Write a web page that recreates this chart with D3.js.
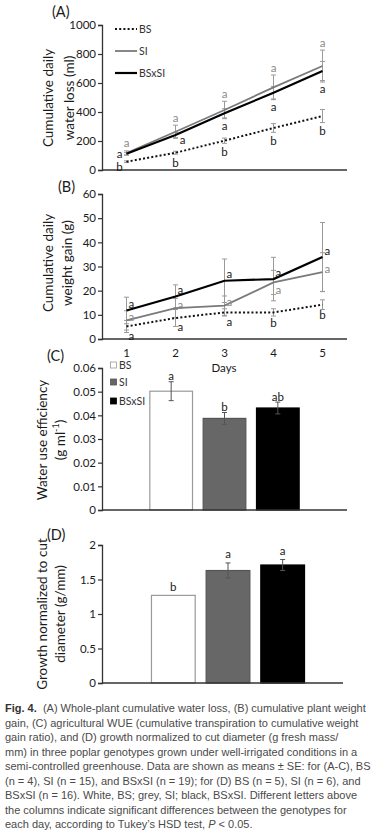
<!DOCTYPE html>
<html><head><meta charset="utf-8">
<script src="https://cdn.jsdelivr.net/npm/d3@7"></script>
<style>body{margin:0;background:#fff}svg{display:block}</style>
</head><body>
<script>
// ---------- data ----------
const days = [1, 2, 3, 4, 5];
const genotypes = ["BS", "SI", "BSxSI"];
// (A) cumulative water loss (ml)
const waterBS = [57, 119, 202, 290, 372];
const waterBSerr = [6, 10, 18, 30, 45];
const waterSI = [117, 264, 414, 570, 717];
const waterSIerr = [15, 45, 60, 85, 110];
const waterBSxSI = [112, 241, 391, 533, 683];
const waterBSxSIerr = [8, 18, 32, 43, 66];
const lettersA_BS = ["b", "b", "b", "b", "b"];
const lettersA_SI = ["a", "a", "a", "a", "a"];
const lettersA_BSxSI = ["a", "a", "a", "a", "a"];
// (B) cumulative weight gain (g)
const gainBS = [5.2, 8.7, 11.0, 11.0, 14.2];
const gainBSerr = [2.5, 3.5, 1.5, 1.5, 2];
const gainSI = [7.7, 12.8, 13.8, 23.4, 27.7];
const gainSIerr = [4, 4, 4, 5, 8];
const gainBSxSI = [11.8, 17.6, 24.1, 24.8, 33.9];
const gainBSxSIerr = [5.5, 4.8, 9, 9, 14.3];
const lettersB_BS = ["a", "a", "a", "b", "b"];
const lettersB_SI = ["a", "a", "a", "a", "a"];
const lettersB_BSxSI = ["a", "a", "a", "a", "a"];
// (C) water use efficiency
const wue = [0.0502, 0.0387, 0.0431];
const wueErr = [0.004, 0.0025, 0.0025];
const lettersC = ["a", "b", "ab"];
// (D) growth normalized to cut diameter
const growth = [1.27, 1.63, 1.71];
const growthErr = [0, 0.11, 0.08];
const lettersD = ["b", "a", "a"];
const ticksA = [0, 200, 400, 600, 800, 1000];
const ticksB = [0, 10, 20, 30, 40, 50, 60];
const ticksC = [0, 0.01, 0.02, 0.03, 0.04, 0.05, 0.06];
const ticksD = [0, 0.5, 1, 1.5, 2];
const captionLines = [
  "(A) Whole-plant cumulative water loss, (B) cumulative plant weight",
  "gain, (C) agricultural WUE (cumulative transpiration to cumulative weight",
  "gain ratio), and (D) growth normalized to cut diameter (g fresh mass/",
  "mm) in three poplar genotypes grown under well-irrigated conditions in a",
  "semi-controlled greenhouse. Data are shown as means \u00b1 SE: for (A-C), BS",
  "(n = 4), SI (n = 15), and BSxSI (n = 19); for (D) BS (n = 5), SI (n = 6), and",
  "BSxSI (n = 16). White, BS; grey, SI; black, BSxSI. Different letters above",
  "the columns indicate significant differences between the genotypes for",
  "each day, according to Tukey\u2019s HSD test, "
];

// ---------- setup ----------
const W = 386, H = 836;
const FONT = "Lato, 'Open Sans', sans-serif";
const svg = d3.select("body").append("svg").attr("width", W).attr("height", H)
  .style("font-family", FONT);
const axisCol = "#333", txtCol = "#1a1a1a", greyLine = "#7a7a7a", errCol = "#9a9a9a", greyTxt = "#8a8a8a";

function yAxis(y, ticks, fmt) {
  const g = svg.append("g").attr("transform", "translate(102,0)")
    .call(d3.axisLeft(y).tickValues(ticks).tickSize(4).tickFormat(fmt));
  g.select(".domain").attr("stroke", axisCol).attr("stroke-width", 1.3);
  g.selectAll(".tick line").attr("stroke", axisCol).attr("stroke-width", 1.2);
  g.selectAll(".tick text").attr("fill", txtCol).style("font-size", "11.5px").style("font-family", FONT).attr("x", -6);
  return g;
}
function xLine(y0, x1) {
  svg.append("line").attr("x1", 102).attr("x2", x1).attr("y1", y0).attr("y2", y0)
    .attr("stroke", axisCol).attr("stroke-width", 1.3);
}
function yTitle(lines, xs, cy, size) {
  lines.forEach((t, i) => {
    const tx = svg.append("text").attr("transform", `translate(${xs[i]},${cy}) rotate(-90)`)
      .attr("text-anchor", "middle").attr("dominant-baseline", "central")
      .attr("fill", txtCol).style("font-size", size + "px");
    if (typeof t === "string") tx.text(t); else t(tx);
  });
}
function panelLabel(t, x, y) {
  svg.append("text").attr("x", x).attr("y", y).attr("fill", txtCol).style("font-size", "14.5px").text(t);
}
function errBar(x, y, v, e, col, cap) {
  if (e <= 0) return;
  const g = svg.append("g").attr("stroke", col).attr("stroke-width", 1);
  g.append("line").attr("x1", x).attr("x2", x).attr("y1", y(v - e)).attr("y2", y(v + e));
  g.append("line").attr("x1", x - cap).attr("x2", x + cap).attr("y1", y(v - e)).attr("y2", y(v - e));
  g.append("line").attr("x1", x - cap).attr("x2", x + cap).attr("y1", y(v + e)).attr("y2", y(v + e));
}
function letter(t, x, y, col, anchor) {
  svg.append("text").attr("x", x).attr("y", y).attr("text-anchor", anchor || "middle")
    .attr("dominant-baseline", "central").attr("fill", col).style("font-size", "11.5px").text(t);
}

const x = d3.scalePoint().domain(days).range([102, 347]).padding(0.5);

// ---------- (A) ----------
const yA = d3.scaleLinear().domain([0, 1000]).range([170, 25]);
yAxis(yA, ticksA, d3.format("d"));
xLine(170, 347);
panelLabel("(A)", 52, 17);
yTitle(["Cumulative daily", "water loss (ml)"], [48, 69], 98, 13.5);
const line = y => d3.line().x((d, i) => x(days[i])).y(d => y(d));
const seriesA = [
  {v: waterBS, e: waterBSerr, col: "#111", w: 2, dash: "2,2.2"},
  {v: waterSI, e: waterSIerr, col: greyLine, w: 1.8, dash: null},
  {v: waterBSxSI, e: waterBSxSIerr, col: "#000", w: 2.2, dash: null}
];
seriesA.forEach(s => s.v.forEach((v, i) => errBar(x(days[i]), yA, v, s.e[i], errCol, 2.5)));
seriesA.forEach(s => {
  svg.append("path").datum(s.v).attr("d", line(yA)).attr("fill", "none")
    .attr("stroke", s.col).attr("stroke-width", s.w).attr("stroke-dasharray", s.dash);
});
days.forEach((d, i) => {
  letter(lettersA_SI[i], x(d), yA(waterSI[i] + waterSIerr[i]) - 8, greyTxt);
  if (i === 0) {
    letter(lettersA_BSxSI[i], x(d) - 7, yA(waterBSxSI[i]), txtCol);
    letter(lettersA_BS[i], x(d) - 7, yA(waterBS[i]) + 5, txtCol);
  } else {
    if (i === 1) letter(lettersA_BSxSI[i], x(d) + 7, yA(waterBSxSI[i]) + 4, txtCol);
    else letter(lettersA_BSxSI[i], x(d), yA(waterBSxSI[i] - waterBSxSIerr[i]) + 8, txtCol);
    letter(lettersA_BS[i], x(d), yA(waterBS[i] - waterBSerr[i]) + 8, txtCol);
  }
});
// legend A
const legA = [
  {t: "BS", col: "#111", w: 2, dash: "2,2.2", y: 29},
  {t: "SI", col: greyLine, w: 1.8, dash: null, y: 51},
  {t: "BSxSI", col: "#000", w: 2.2, dash: null, y: 73}
];
legA.forEach(l => {
  svg.append("line").attr("x1", 115).attr("x2", 137).attr("y1", l.y).attr("y2", l.y)
    .attr("stroke", l.col).attr("stroke-width", l.w).attr("stroke-dasharray", l.dash);
  svg.append("text").attr("x", 139).attr("y", l.y).attr("dominant-baseline", "central")
    .attr("fill", "#333").style("font-size", "10.5px").text(l.t);
});

// ---------- (B) ----------
const yB = d3.scaleLinear().domain([0, 60]).range([339, 194]);
yAxis(yB, ticksB, d3.format("d"));
xLine(339, 347);
panelLabel("(B)", 58, 192);
yTitle(["Cumulative daily", "weight gain (g)"], [48, 67], 263, 13.5);
svg.selectAll(".xlab").data(days).enter().append("text")
  .attr("x", d => x(d)).attr("y", 352.5).attr("text-anchor", "middle").attr("dominant-baseline", "central")
  .attr("fill", txtCol).style("font-size", "11.5px").text(d => d);
svg.append("text").attr("x", 224).attr("y", 367).attr("text-anchor", "middle").attr("dominant-baseline", "central")
  .attr("fill", txtCol).style("font-size", "11.5px").text("Days");
const seriesB = [
  {v: gainBS, e: gainBSerr, col: "#111", w: 2, dash: "2,2.2"},
  {v: gainSI, e: gainSIerr, col: greyLine, w: 1.8, dash: null},
  {v: gainBSxSI, e: gainBSxSIerr, col: "#000", w: 2.2, dash: null}
];
seriesB.forEach(s => s.v.forEach((v, i) => errBar(x(days[i]), yB, v, s.e[i], errCol, 2.5)));
seriesB.forEach(s => {
  svg.append("path").datum(s.v).attr("d", line(yB)).attr("fill", "none")
    .attr("stroke", s.col).attr("stroke-width", s.w).attr("stroke-dasharray", s.dash);
});
days.forEach((d, i) => {
  letter(lettersB_BSxSI[i], x(d) + 2, yB(gainBSxSI[i]) - 7, txtCol, "start");
  if (i === 3) letter(lettersB_SI[i], x(d) + 2, yB(gainSI[i]) + 7, greyTxt, "start");
  else letter(lettersB_SI[i], x(d) + 2, yB(gainSI[i]) - 4, greyTxt, "start");
  if (i < 3) letter(lettersB_BS[i], x(d) + 2, yB(gainBS[i]) + 9, txtCol, "start");
  else letter(lettersB_BS[i], x(d), yB(gainBS[i]) + 10, txtCol);
});

// ---------- (C) ----------
const xC = d3.scaleBand().domain(genotypes).range([144.5, 304.5]).paddingInner(0.2).paddingOuter(0.1);
const fills = {BS: "#fff", SI: "#676767", BSxSI: "#000"};
const strokes = {BS: "#9a9a9a", SI: "#555", BSxSI: "#000"};
const yC = d3.scaleLinear().domain([0, 0.06]).range([510, 368]);
yAxis(yC, ticksC, d => d === 0 ? "0" : d3.format(".2f")(d));
panelLabel("(C)", 47, 361);
yTitle(["Water use efficiency", t => { t.text("(g ml"); t.append("tspan").attr("dy", -5).style("font-size", "9px").text("-1"); t.append("tspan").attr("dy", 5).text(")"); }], [42, 60], 440, 13.5);
genotypes.forEach((g, i) => {
  svg.append("rect").attr("x", xC(g)).attr("y", yC(wue[i])).attr("width", xC.bandwidth())
    .attr("height", yC(0) - yC(wue[i])).attr("fill", fills[g]).attr("stroke", strokes[g]).attr("stroke-width", 1.2);
  errBar(xC(g) + xC.bandwidth() / 2, yC, wue[i], wueErr[i], "#555", 2.5);
  letter(lettersC[i], xC(g) + xC.bandwidth() / 2, yC(wue[i] + wueErr[i]) - 6, txtCol);
});
xLine(510, 347);
const legC = [{g: "BS", y: 365}, {g: "SI", y: 382}, {g: "BSxSI", y: 401}];
legC.forEach(l => {
  svg.append("rect").attr("x", 110.5).attr("y", l.y - 3).attr("width", 6).attr("height", 6)
    .attr("fill", fills[l.g]).attr("stroke", strokes[l.g]).attr("stroke-width", 0.8);
  svg.append("text").attr("x", 119).attr("y", l.y).attr("dominant-baseline", "central")
    .attr("fill", "#333").style("font-size", "10.5px").text(l.g);
});

// ---------- (D) ----------
const xD = d3.scaleBand().domain(genotypes).range([146, 310]).paddingInner(0.2).paddingOuter(0.1);
const yD = d3.scaleLinear().domain([0, 2]).range([683, 545]);
yAxis(yD, ticksD, d3.format(""));
panelLabel("(D)", 47, 540);
yTitle(["Growth normalized to cut", "diameter  (g/mm)"], [42, 60], 614, 13.5);
genotypes.forEach((g, i) => {
  svg.append("rect").attr("x", xD(g)).attr("y", yD(growth[i])).attr("width", xD.bandwidth())
    .attr("height", yD(0) - yD(growth[i])).attr("fill", fills[g]).attr("stroke", strokes[g]).attr("stroke-width", 1.2);
  errBar(xD(g) + xD.bandwidth() / 2, yD, growth[i], growthErr[i], "#555", 2.5);
  letter(lettersD[i], xD(g) + xD.bandwidth() / 2, yD(growth[i] + growthErr[i]) - 9, txtCol);
});
xLine(683, 343);

// ---------- caption ----------
const cap = svg.append("g").style("font-family", "'Liberation Sans', Arial, sans-serif")
  .style("font-size", "11px").attr("fill", "#4a4a4a");
captionLines.forEach((l, i) => {
  const t = cap.append("text").attr("x", 5).attr("y", 712 + i * 14.5);
  if (i === 0) {
    t.append("tspan").style("font-weight", "bold").attr("fill", "#333").text("Fig. 4.");
    t.append("tspan").text("\u00a0\u00a0" + l);
  } else t.text(l);
  if (i === captionLines.length - 1) {
    t.append("tspan").style("font-style", "italic").text("P");
    t.append("tspan").text(" < 0.05.");
  }
});
</script>
</body></html>
